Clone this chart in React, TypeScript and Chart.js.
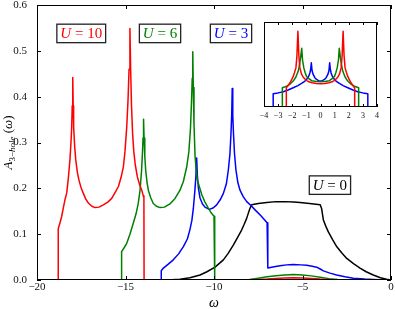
import React, { useEffect, useRef } from "react";
import { Chart, registerables } from "chart.js";

Chart.register(...registerables);

// ---------- data (x = omega, y = A_3-hole) ----------
const U10_POINTS: [number, number][] = [
  [-20, 0], [-18.8, 0], [-18.8, 0.112], [-18.7, 0.125], [-18.61, 0.138], [-18.51, 0.158],
  [-18.42, 0.175], [-18.32, 0.19], [-18.23, 0.222], [-18.14, 0.262], [-18.08, 0.3],
  [-18.04, 0.334], [-18.01, 0.38], [-17.98, 0.442], [-17.955, 0.38], [-17.93, 0.334],
  [-17.87, 0.29], [-17.81, 0.262], [-17.72, 0.235], [-17.63, 0.218], [-17.5, 0.2],
  [-17.38, 0.189], [-17.25, 0.177], [-17.1, 0.168], [-16.9, 0.161], [-16.72, 0.158],
  [-16.5, 0.159], [-16.25, 0.164], [-16.0, 0.17], [-15.78, 0.178], [-15.6, 0.19],
  [-15.4, 0.204], [-15.25, 0.224], [-15.12, 0.247], [-15.03, 0.28], [-14.93, 0.334],
  [-14.86, 0.39], [-14.8, 0.46], [-14.75, 0.549], [-14.71, 0.46], [-14.66, 0.38],
  [-14.6, 0.32], [-14.53, 0.28], [-14.45, 0.252], [-14.33, 0.225], [-14.2, 0.208],
  [-14.08, 0.196], [-14.0, 0.184], [-13.96, 0.18], [-13.95, 0], [-12, 0], [-10, 0],
  [-8.5, 0], [-7.5, 0.001], [-7, 0.002], [-6.5, 0.0035], [-6, 0.0045], [-5.5, 0.005],
  [-5, 0.0045], [-4.5, 0.0035], [-4, 0.002], [-3.5, 0.001], [-3, 0], [-2, 0], [0, 0],
];

const U6_POINTS: [number, number][] = [
  [-20, 0], [-15.22, 0], [-15.22, 0.062], [-15.05, 0.072], [-14.93, 0.08], [-14.75, 0.1],
  [-14.56, 0.124], [-14.4, 0.145], [-14.28, 0.167], [-14.18, 0.195], [-14.09, 0.24],
  [-14.04, 0.28], [-14.01, 0.31], [-13.98, 0.351], [-13.95, 0.31], [-13.91, 0.27],
  [-13.86, 0.24], [-13.78, 0.212], [-13.71, 0.196], [-13.58, 0.18], [-13.43, 0.167],
  [-13.25, 0.161], [-13.05, 0.158], [-12.8, 0.159], [-12.49, 0.166], [-12.2, 0.178],
  [-11.92, 0.196], [-11.73, 0.215], [-11.54, 0.247], [-11.42, 0.28], [-11.33, 0.33],
  [-11.27, 0.39], [-11.23, 0.44], [-11.2, 0.498], [-11.17, 0.42], [-11.13, 0.34],
  [-11.07, 0.27], [-11.0, 0.237], [-10.94, 0.218], [-10.8, 0.2], [-10.69, 0.186],
  [-10.51, 0.17], [-10.32, 0.157], [-10.15, 0.146], [-10.0, 0.139], [-9.96, 0],
  [-8.5, 0], [-8, 0.001], [-7.5, 0.004], [-7, 0.007], [-6.5, 0.0095], [-6, 0.011],
  [-5.5, 0.012], [-5, 0.011], [-4.5, 0.009], [-4, 0.006], [-3.5, 0.003], [-3, 0.001],
  [-2.5, 0], [0, 0],
];

const U3_POINTS: [number, number][] = [
  [-20, 0], [-12.98, 0], [-12.98, 0.02], [-12.86, 0.026], [-12.6, 0.034], [-12.3, 0.044],
  [-12.0, 0.057], [-11.73, 0.073], [-11.5, 0.09], [-11.36, 0.11], [-11.25, 0.13],
  [-11.17, 0.155], [-11.08, 0.195], [-11.02, 0.228], [-10.98, 0.266], [-10.94, 0.228],
  [-10.88, 0.2], [-10.79, 0.179], [-10.65, 0.166], [-10.51, 0.159], [-10.27, 0.154],
  [-10.05, 0.157], [-9.85, 0.164], [-9.65, 0.175], [-9.47, 0.189], [-9.3, 0.21],
  [-9.19, 0.24], [-9.1, 0.275], [-9.04, 0.32], [-9.0, 0.36], [-8.97, 0.418],
  [-8.94, 0.36], [-8.9, 0.32], [-8.84, 0.275], [-8.76, 0.24], [-8.65, 0.212],
  [-8.53, 0.196], [-8.35, 0.182], [-8.15, 0.171], [-7.9, 0.162], [-7.68, 0.153],
  [-7.35, 0.14], [-7.0, 0.125], [-6.96, 0.026], [-6.6, 0.029], [-6.27, 0.031],
  [-5.9, 0.033], [-5.52, 0.034], [-5.1, 0.033], [-4.76, 0.032], [-4.45, 0.03],
  [-4.2, 0.028], [-4.0, 0.024], [-3.82, 0.02], [-3.45, 0.015], [-3.07, 0.011],
  [-2.6, 0.007], [-2.13, 0.004], [-1.5, 0.002], [-1.0, 0.0012], [-0.3, 0], [0, 0],
];

const U0_POINTS: [number, number][] = [
  [-20, 0], [-12.8, 0], [-12.4, 0.0005], [-11.92, 0.0015], [-11.36, 0.005], [-10.79, 0.011],
  [-10.4, 0.018], [-9.94, 0.028], [-9.47, 0.044], [-9.2, 0.058], [-8.91, 0.076],
  [-8.65, 0.094], [-8.44, 0.109], [-8.3, 0.121], [-8.15, 0.135], [-8.05, 0.147],
  [-7.97, 0.156], [-7.87, 0.164], [-7.5, 0.167], [-7.02, 0.169], [-6.5, 0.171],
  [-6.0, 0.171], [-5.5, 0.17], [-5.14, 0.169], [-4.6, 0.167], [-4.0, 0.164],
  [-3.92, 0.156], [-3.87, 0.143], [-3.82, 0.131], [-3.68, 0.117], [-3.54, 0.105],
  [-3.3, 0.088], [-3.07, 0.073], [-2.8, 0.06], [-2.5, 0.047], [-2.1, 0.035],
  [-1.75, 0.026], [-1.4, 0.018], [-1.0, 0.011], [-0.6, 0.005], [-0.25, 0.0015], [0, 0],
];

// inset (normalised spectral weight, omega from -4 to 4)
const INSET_U10: [number, number][] = [
  [-4, 0], [-2.42, 0], [-2.42, 0.227], [-2.3, 0.25], [-2.16, 0.285], [-2.05, 0.32],
  [-1.93, 0.36], [-1.83, 0.41], [-1.74, 0.46], [-1.67, 0.6], [-1.6, 0.89], [-1.53, 0.6],
  [-1.46, 0.46], [-1.35, 0.39], [-1.22, 0.35], [-1.05, 0.32], [-0.87, 0.3], [-0.6, 0.285],
  [-0.3, 0.277], [0, 0.274], [0.3, 0.277], [0.6, 0.285], [0.87, 0.3], [1.05, 0.32],
  [1.22, 0.35], [1.35, 0.39], [1.46, 0.46], [1.53, 0.6], [1.6, 0.89], [1.67, 0.6],
  [1.74, 0.46], [1.83, 0.41], [1.93, 0.36], [2.05, 0.32], [2.16, 0.285], [2.3, 0.25],
  [2.42, 0.227], [2.42, 0], [4, 0],
];

const INSET_U6: [number, number][] = [
  [-4, 0], [-2.7, 0], [-2.7, 0.227], [-2.55, 0.235], [-2.4, 0.246], [-2.15, 0.27],
  [-1.93, 0.305], [-1.75, 0.35], [-1.58, 0.42], [-1.48, 0.5], [-1.41, 0.58], [-1.33, 0.69],
  [-1.27, 0.55], [-1.18, 0.46], [-1.08, 0.4], [-0.99, 0.36], [-0.8, 0.33], [-0.63, 0.31],
  [-0.3, 0.3], [0, 0.297], [0.3, 0.3], [0.63, 0.31], [0.8, 0.33], [0.99, 0.36],
  [1.08, 0.4], [1.18, 0.46], [1.27, 0.55], [1.33, 0.69], [1.41, 0.58], [1.48, 0.5],
  [1.58, 0.42], [1.75, 0.35], [1.93, 0.305], [2.15, 0.27], [2.4, 0.246], [2.55, 0.235],
  [2.7, 0.227], [2.7, 0], [4, 0],
];

const INSET_U3: [number, number][] = [
  [-4, 0], [-3.35, 0], [-3.35, 0.156], [-3.0, 0.166], [-2.63, 0.18], [-2.3, 0.2],
  [-1.93, 0.227], [-1.6, 0.252], [-1.34, 0.277], [-1.15, 0.298], [-0.99, 0.324],
  [-0.85, 0.355], [-0.75, 0.4], [-0.69, 0.45], [-0.65, 0.52], [-0.6, 0.43], [-0.52, 0.383],
  [-0.4, 0.345], [-0.28, 0.324], [-0.14, 0.31], [0, 0.305], [0.14, 0.31], [0.28, 0.324],
  [0.4, 0.345], [0.52, 0.383], [0.6, 0.43], [0.65, 0.52], [0.69, 0.45], [0.75, 0.4],
  [0.85, 0.355], [0.99, 0.324], [1.15, 0.298], [1.34, 0.277], [1.6, 0.252], [1.93, 0.227],
  [2.3, 0.2], [2.63, 0.18], [3.0, 0.166], [3.35, 0.156], [3.35, 0], [4, 0],
];

const SERIES_LABELS = ["U = 10", "U = 6", "U = 3", "U = 0"];
const SERIES_COLORS = ["#ff0000", "#008000", "#0000ff", "#000000"];
const X_TICK_STEP = 5;
const Y_TICK_STEP = 0.1;
const INSET_TICK_STEP = 1;

// label anchor positions (data units of the main axes)
const LABEL_ANCHORS: { x: number; y: number; digits: string }[] = [
  { x: -17.5, y: 0.538, digits: "10" },
  { x: -13.05, y: 0.538, digits: "6" },
  { x: -9.04, y: 0.538, digits: "3" },
  { x: -3.45, y: 0.207, digits: "0" },
];

const SERIF = '"Liberation Serif", "DejaVu Serif", serif';
const minusFmt = (v: number, dec = 0) => {
  const s = Math.abs(v).toFixed(dec);
  return v < -1e-9 ? "\u2212" + s : s;
};

type Part = { t: string; it?: boolean; size: number; dy?: number };
const fontOf = (p: Part) => `${p.it ? "italic " : ""}${p.size}px ${SERIF}`;
function partsWidth(ctx: CanvasRenderingContext2D, parts: Part[]) {
  let w = 0;
  for (const p of parts) {
    ctx.font = fontOf(p);
    w += ctx.measureText(p.t).width;
  }
  return w;
}
function drawParts(ctx: CanvasRenderingContext2D, parts: Part[], x: number, y: number) {
  let cx = x;
  for (const p of parts) {
    ctx.font = fontOf(p);
    ctx.fillText(p.t, cx, y + (p.dy || 0));
    cx += ctx.measureText(p.t).width;
  }
}

const toXY = (pts: [number, number][]) => pts.map(([x, y]) => ({ x, y }));

const mainPlugin = {
  id: "mainDecor",
  afterDatasetsDraw(chart: any) {
    const { ctx, chartArea: a, scales } = chart;
    const xs = scales.x;
    const ys = scales.y;
    ctx.save();
    ctx.strokeStyle = "#000";
    ctx.lineWidth = 1;
    ctx.strokeRect(a.left + 0.5, a.top + 0.5, a.right - a.left - 1, a.bottom - a.top - 1);
    const tl = 4;
    ctx.beginPath();
    for (const t of xs.ticks) {
      const px = Math.round(xs.getPixelForValue(t.value)) + 0.5;
      ctx.moveTo(px, a.bottom);
      ctx.lineTo(px, a.bottom - tl);
      ctx.moveTo(px, a.top);
      ctx.lineTo(px, a.top + tl);
    }
    for (const t of ys.ticks) {
      const py = Math.round(ys.getPixelForValue(t.value)) + 0.5;
      ctx.moveTo(a.left, py);
      ctx.lineTo(a.left + tl, py);
      ctx.moveTo(a.right, py);
      ctx.lineTo(a.right - tl, py);
    }
    ctx.stroke();

    // series labels in boxes
    LABEL_ANCHORS.forEach((lab, i) => {
      const cx = xs.getPixelForValue(lab.x);
      const cy = ys.getPixelForValue(lab.y);
      const size = 15;
      const parts: Part[] = [
        { t: "U", it: true, size },
        { t: " = ", size },
        { t: lab.digits, size },
      ];
      const w = partsWidth(ctx, parts);
      const bw = w + 7;
      const bh = 18.5;
      ctx.fillStyle = "#fff";
      ctx.fillRect(cx - bw / 2, cy - bh / 2, bw, bh);
      ctx.strokeStyle = "#222";
      ctx.lineWidth = 1.3;
      ctx.strokeRect(cx - bw / 2, cy - bh / 2, bw, bh);
      ctx.fillStyle = SERIES_COLORS[i];
      ctx.textBaseline = "alphabetic";
      drawParts(ctx, parts, cx - w / 2, cy + size * 0.33);
    });

    // axis titles
    ctx.fillStyle = "#000";
    ctx.textBaseline = "alphabetic";
    const xt: Part[] = [{ t: "\u03c9", it: true, size: 14 }];
    const xw = partsWidth(ctx, xt);
    drawParts(ctx, xt, (a.left + a.right) / 2 - xw / 2, 307);

    const yt: Part[] = [
      { t: "A", it: true, size: 13 },
      { t: "3", size: 9, dy: 3 },
      { t: "\u2212", size: 9, dy: 3 },
      { t: "hole", it: true, size: 9, dy: 3 },
      { t: " (", size: 13 },
      { t: "\u03c9", it: true, size: 13 },
      { t: ")", size: 13 },
    ];
    const yw = partsWidth(ctx, yt);
    ctx.translate(12, (a.top + a.bottom) / 2);
    ctx.rotate(-Math.PI / 2);
    drawParts(ctx, yt, -yw / 2, 0);
    ctx.restore();
  },
};

const insetPlugin = {
  id: "insetDecor",
  beforeDatasetsDraw(chart: any) {
    const { ctx, chartArea: a } = chart;
    ctx.save();
    ctx.fillStyle = "#fff";
    ctx.fillRect(a.left, a.top, a.right - a.left, a.bottom - a.top);
    ctx.restore();
  },
  afterDatasetsDraw(chart: any) {
    const { ctx, chartArea: a, scales } = chart;
    const xs = scales.x;
    ctx.save();
    ctx.strokeStyle = "#000";
    ctx.lineWidth = 1;
    ctx.strokeRect(a.left + 0.5, a.top + 0.5, a.right - a.left - 1, a.bottom - a.top - 1);
    ctx.beginPath();
    const tl = 3;
    for (const t of xs.ticks) {
      const px = Math.round(xs.getPixelForValue(t.value)) + 0.5;
      ctx.moveTo(px, a.bottom);
      ctx.lineTo(px, a.bottom - tl);
      ctx.moveTo(px, a.top);
      ctx.lineTo(px, a.top + tl);
    }
    ctx.stroke();
    ctx.restore();
  },
};

function lineDs(pts: [number, number][], color: string) {
  return {
    data: toXY(pts),
    borderColor: color,
    backgroundColor: color,
    borderWidth: 1.5,
    borderJoinStyle: "round" as const,
    borderCapStyle: "round" as const,
    pointRadius: 0,
    tension: 0,
    fill: false,
  };
}

export default function App() {
  const mainRef = useRef<HTMLCanvasElement>(null);
  const insetRef = useRef<HTMLCanvasElement>(null);

  useEffect(() => {
    const tickFont = { family: SERIF, size: 11 };
    const main = new Chart(mainRef.current as HTMLCanvasElement, {
      type: "line",
      data: {
        datasets: [
          lineDs(U10_POINTS, SERIES_COLORS[0]),
          lineDs(U6_POINTS, SERIES_COLORS[1]),
          lineDs(U3_POINTS, SERIES_COLORS[2]),
          lineDs(U0_POINTS, SERIES_COLORS[3]),
        ].map((d, i) => ({ ...d, label: SERIES_LABELS[i] })),
      },
      options: {
        animation: false,
        responsive: false,
        devicePixelRatio: 1,
        layout: { padding: { top: 5, right: 4, left: 0, bottom: 0 } },
        plugins: { legend: { display: false }, tooltip: { enabled: false } },
        scales: {
          x: {
            type: "linear",
            min: -20,
            max: 0,
            grid: { display: false, drawTicks: false },
            border: { display: false },
            ticks: {
              stepSize: X_TICK_STEP,
              font: tickFont,
              color: "#111",
              padding: 1,
              maxRotation: 0,
              autoSkip: false,
              callback: (v: any) => minusFmt(Number(v), 0),
            },
            afterFit: (s: any) => {
              s.height = 29;
              s.paddingLeft = 0;
              s.paddingRight = 0;
            },
          },
          y: {
            type: "linear",
            min: 0,
            max: 0.6,
            grid: { display: false, drawTicks: false },
            border: { display: false },
            ticks: {
              stepSize: Y_TICK_STEP,
              font: tickFont,
              color: "#111",
              padding: 10,
              callback: (v: any) => Number(v).toFixed(1),
            },
            afterFit: (s: any) => {
              s.width = 37;
              s.paddingTop = 0;
              s.paddingBottom = 0;
            },
          },
        },
      } as any,
      plugins: [mainPlugin],
    });

    const inset = new Chart(insetRef.current as HTMLCanvasElement, {
      type: "line",
      data: {
        datasets: [
          lineDs(INSET_U10, SERIES_COLORS[0]),
          lineDs(INSET_U6, SERIES_COLORS[1]),
          lineDs(INSET_U3, SERIES_COLORS[2]),
        ],
      },
      options: {
        animation: false,
        responsive: false,
        devicePixelRatio: 1,
        layout: { padding: { top: 4, right: 10, left: 9, bottom: 0 } },
        plugins: { legend: { display: false }, tooltip: { enabled: false } },
        scales: {
          x: {
            type: "linear",
            min: -4,
            max: 4,
            grid: { display: false, drawTicks: false },
            border: { display: false },
            ticks: {
              stepSize: INSET_TICK_STEP,
              font: { family: SERIF, size: 8 },
              color: "#111",
              padding: 4,
              maxRotation: 0,
              autoSkip: false,
              callback: (v: any) => minusFmt(Number(v), 0),
            },
            afterFit: (s: any) => {
              s.height = 15;
              s.paddingLeft = 0;
              s.paddingRight = 0;
            },
          },
          y: { type: "linear", min: 0, max: 1, display: false },
        },
      } as any,
      plugins: [insetPlugin],
    });

    return () => {
      main.destroy();
      inset.destroy();
    };
  }, []);

  return (
    <div style={{ position: "fixed", left: 0, top: 0, width: 395, height: 309, background: "#fff" }}>
      <canvas
        ref={mainRef}
        width={395}
        height={309}
        style={{ position: "absolute", left: 0, top: 0, width: 395, height: 309 }}
      />
      <canvas
        ref={insetRef}
        width={132}
        height={104}
        style={{ position: "absolute", left: 255, top: 18, width: 132, height: 104 }}
      />
    </div>
  );
}
